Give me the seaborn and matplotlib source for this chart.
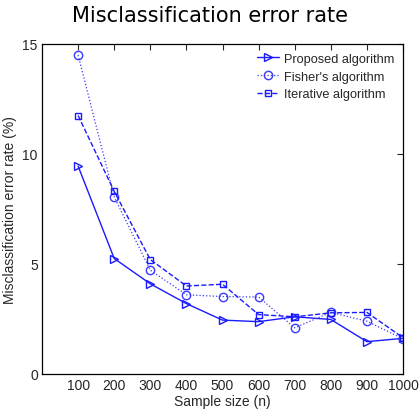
import matplotlib
matplotlib.use("Agg")
import matplotlib.pyplot as plt
import seaborn as sns
import pandas as pd

sample_sizes = [100, 200, 300, 400, 500, 600, 700, 800, 900, 1000]
proposed = [9.45, 5.25, 4.1, 3.2, 2.45, 2.38, 2.6, 2.48, 1.47, 1.62]
fisher = [14.5, 8.05, 4.72, 3.6, 3.52, 3.5, 2.1, 2.8, 2.4, 1.6]
iterative = [11.75, 8.3, 5.2, 4.0, 4.08, 2.7, 2.6, 2.78, 2.8, 1.65]
series_names = ["Proposed algorithm", "Fisher's algorithm", "Iterative algorithm"]
y_ticks = [0, 5, 10, 15]

sns.set_style("white")
plt.rcParams['font.family'] = ['Liberation Sans', 'DejaVu Sans']

fig = plt.figure(figsize=(4.2, 4.1), dpi=100)
ax = fig.add_axes([42/420, 35/410, 361/420, 330/410])

blue = '#1a1aff'
styles = [
    dict(marker='>', linestyle='-', linewidth=1.0, color=blue, ms=6),
    dict(marker='o', linestyle=':', linewidth=0.9, color='#3a3aff', ms=6),
    dict(marker='s', linestyle='--', linewidth=1.0, color=blue, ms=5),
]
for name, vals, st in zip(series_names, [proposed, fisher, iterative], styles):
    df = pd.DataFrame({"n": sample_sizes, "err": vals})
    sns.lineplot(data=df, x="n", y="err", ax=ax, color=st['color'], label=name,
                 marker=st['marker'], linestyle=st['linestyle'],
                 linewidth=st['linewidth'], markersize=st['ms'],
                 markerfacecolor='none', markeredgecolor=st['color'], markeredgewidth=1.0)

ax.set_xlim(0, 1000)
ax.set_ylim(0, 15)
ax.set_xticks(sample_sizes)
ax.set_yticks(y_ticks)
ax.tick_params(direction='in', top=True, right=True, length=4, labelsize=10, width=0.8, pad=3)
for s in ax.spines.values():
    s.set_visible(True)
    s.set_color('black')
    s.set_linewidth(0.9)
ax.set_xlabel("Sample size (n)", fontsize=10, labelpad=1)
ax.set_ylabel("Misclassification error rate (%)", fontsize=10, labelpad=4)
fig.suptitle("Misclassification error rate", fontsize=15, y=0.985,
             family=['DejaVu Sans'], color='black')

leg = ax.legend(loc='upper right', frameon=False, fontsize=9.2, handlelength=1.7,
                handletextpad=0.4, borderaxespad=0.3, labelspacing=0.45)

fig.savefig("out.png", dpi=100)
